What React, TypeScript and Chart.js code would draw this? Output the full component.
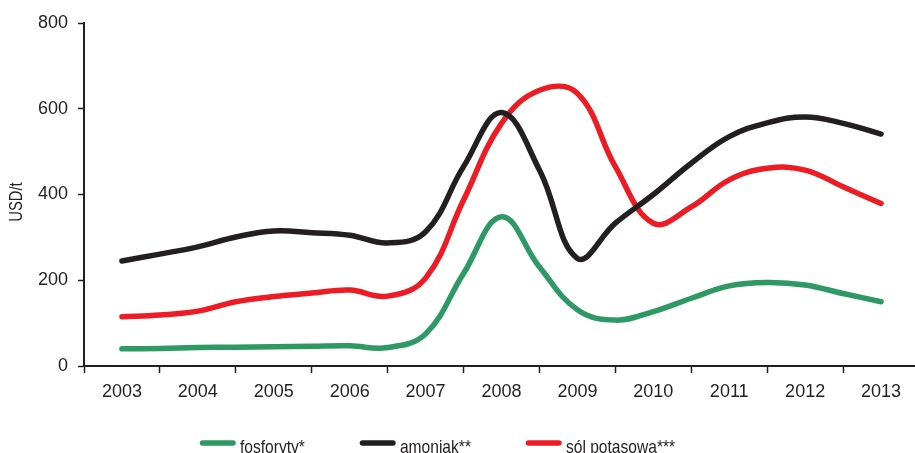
import React, { useEffect, useRef } from "react";
import { Chart, registerables } from "chart.js";

Chart.register(...registerables);

// Category labels (years) shown under the x axis
const years = ["2003", "2004", "2005", "2006", "2007", "2008", "2009", "2010", "2011", "2012", "2013"];

// Half-year observation points
const periods = [
  2003, 2003.5, 2004, 2004.5, 2005, 2005.5, 2006, 2006.5, 2007, 2007.5, 2008,
  2008.5, 2009, 2009.5, 2010, 2010.5, 2011, 2011.5, 2012, 2012.5, 2013,
];

// USD/t
const fosforyty = [40, 41, 43, 44, 45, 46, 47, 43, 75, 216, 348, 231, 131, 107, 127, 158, 187, 195, 189, 169, 150];
const amoniak = [245, 261, 278, 301, 315, 311, 305, 287, 313, 465, 591, 457, 251, 333, 400, 473, 535, 567, 581, 566, 541];
const solPotasowa = [115, 119, 128, 150, 162, 170, 177, 163, 205, 387, 566, 643, 636, 465, 333, 371, 434, 461, 457, 418, 379];

const seriesNames = ["fosforyty*", "amoniak**", "sól potasowa***"];
const yTicks = [0, 200, 400, 600, 800];
const yTitle = "USD/t";

const INK = "#231f20";
const COLORS = ["#2e9964", "#231f20", "#ed1c24"];
const MAIN_FONT = "'Liberation Sans', Arial, sans-serif";
const CONDENSE = 0.82;
const X_LABEL_PAD = 8;

const overlayPlugin = {
  id: "overlayText",
  afterDraw(chart: any) {
    const ctx = chart.ctx as CanvasRenderingContext2D;
    ctx.save();
    // Y axis title (condensed lettering as in the source)
    ctx.fillStyle = INK;
    ctx.font = `18px ${MAIN_FONT}`;
    ctx.textAlign = "center";
    ctx.textBaseline = "middle";
    ctx.translate(17, 202);
    ctx.rotate(-Math.PI / 2);
    ctx.scale(CONDENSE, 1);
    ctx.fillText(yTitle, 0, 0);
    ctx.restore();

    // Legend
    ctx.save();
    ctx.font = `19px ${MAIN_FONT}`;
    ctx.textBaseline = "alphabetic";
    ctx.textAlign = "left";
    let x = 200;
    const lineY = 443;
    chart.data.datasets.forEach((ds: any) => {
      ctx.strokeStyle = ds.borderColor;
      ctx.lineWidth = 5.5;
      ctx.lineCap = "round";
      ctx.beginPath();
      ctx.moveTo(x + 2.5, lineY);
      ctx.lineTo(x + 33, lineY);
      ctx.stroke();
      ctx.fillStyle = INK;
      const tx = x + 40;
      ctx.save();
      ctx.translate(tx, 453);
      ctx.scale(CONDENSE, 1);
      ctx.fillText(ds.label, 0, 0);
      ctx.restore();
      x = tx + ctx.measureText(ds.label).width * CONDENSE + 55;
    });
    ctx.restore();
  },
};

export default function App() {
  const ref = useRef<HTMLCanvasElement | null>(null);

  useEffect(() => {
    if (!ref.current) return;
    const series = [fosforyty, amoniak, solPotasowa];
    const chart = new Chart(ref.current, {
      type: "line",
      data: {
        datasets: series.map((vals, i) => ({
          label: seriesNames[i],
          data: periods.map((p, j) => ({ x: p, y: vals[j] })),
          borderColor: COLORS[i],
          backgroundColor: COLORS[i],
          borderWidth: 5.5,
          borderCapStyle: "round",
          borderJoinStyle: "round",
          pointRadius: 0,
          tension: 0.4,
          fill: false,
        })),
      },
      options: {
        responsive: false,
        animation: false,
        layout: { padding: { top: 23, right: 0, bottom: 0, left: 0 } },
        plugins: {
          legend: { display: false },
          tooltip: { enabled: false },
          title: { display: false },
        },
        scales: {
          x: {
            type: "linear",
            min: 2002.5,
            max: 2013.5,
            afterBuildTicks: (scale: any) => {
              const t: { value: number }[] = [{ value: 2002.5 }];
              years.forEach((y) => {
                const v = Number(y);
                t.push({ value: v });
                t.push({ value: v + 0.5 });
              });
              scale.ticks = t;
            },
            afterFit: (scale: any) => {
              scale.height = 87;
            },
            ticks: {
              autoSkip: false,
              maxRotation: 0,
              minRotation: 0,
              padding: X_LABEL_PAD,
              color: INK,
              font: { family: MAIN_FONT, size: 18 },
              callback: (v: any) => {
                const n = Number(v);
                if (Number.isInteger(n)) {
                  const idx = n - Number(years[0]);
                  return years[idx] ?? "";
                }
                return "";
              },
            },
            grid: {
              drawOnChartArea: false,
              drawTicks: true,
              tickLength: 7,
              tickWidth: 1.5,
              tickColor: (c: any) =>
                c.tick && Number.isInteger(c.tick.value) ? "rgba(0,0,0,0)" : INK,
            },
            border: { display: true, color: INK, width: 2 },
          },
          y: {
            type: "linear",
            min: yTicks[0],
            max: yTicks[yTicks.length - 1],
            afterBuildTicks: (scale: any) => {
              scale.ticks = yTicks.map((v) => ({ value: v }));
            },
            afterFit: (scale: any) => {
              scale.width = 84;
            },
            ticks: {
              padding: 10,
              color: INK,
              font: { family: MAIN_FONT, size: 18 },
            },
            grid: {
              drawOnChartArea: false,
              drawTicks: true,
              tickLength: 6,
              tickWidth: 1.5,
              tickColor: INK,
            },
            border: { display: true, color: INK, width: 2 },
          },
        },
      } as any,
      plugins: [overlayPlugin],
    });
    return () => chart.destroy();
  }, []);

  return (
    <div
      style={{
        position: "absolute",
        left: 0,
        top: 0,
        width: 915,
        height: 453,
        overflow: "hidden",
        background: "#fff",
      }}
    >
      <canvas ref={ref} width={919 + X_LABEL_PAD} height={453} style={{ display: "block" }} />
    </div>
  );
}
